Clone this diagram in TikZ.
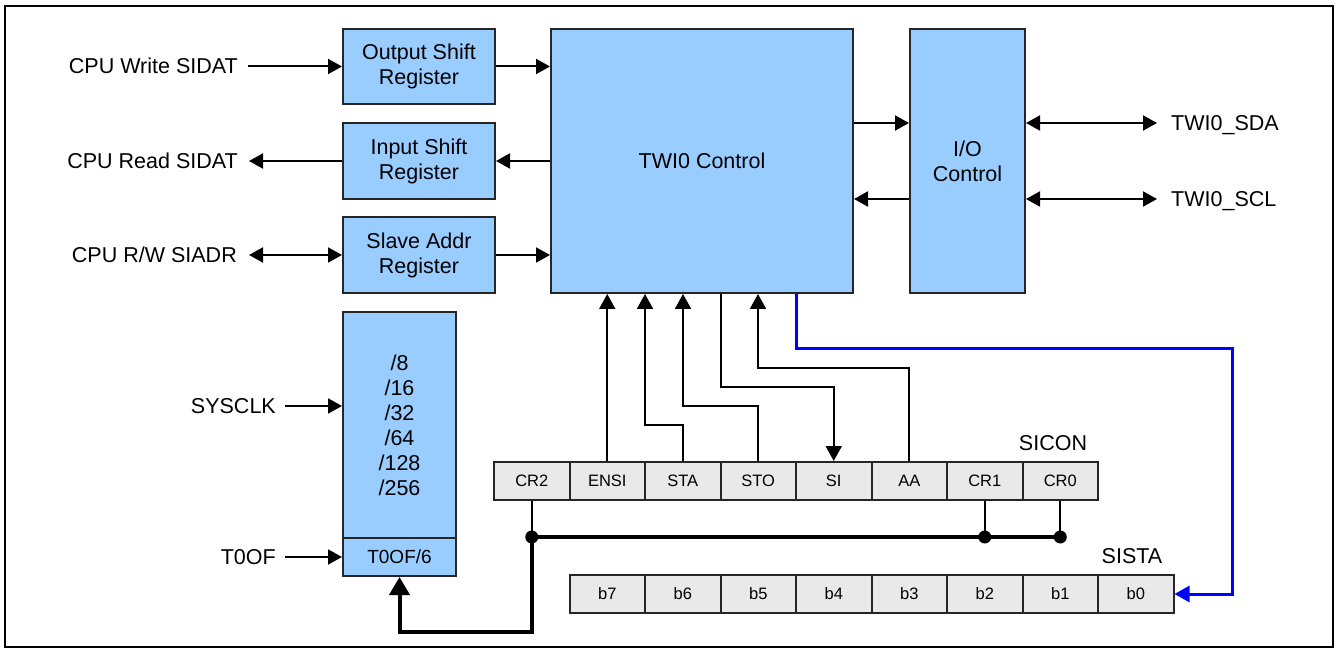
\documentclass[tikz,border=0pt]{standalone}
\usepackage{fontspec}
\setmainfont{Liberation Sans}
\usetikzlibrary{arrows.meta,calc}
\definecolor{boxblue}{RGB}{153,204,255}
\definecolor{cellgray}{RGB}{233,233,233}
\definecolor{lineblue}{RGB}{0,0,255}
\begin{document}
\begin{tikzpicture}[x=1pt,y=-1pt,
  blk/.style={draw=black!85, line width=2pt, fill=boxblue, inner sep=0pt, align=center,
    font=\fontsize{21.5}{25}\selectfont},
  cell/.style={draw=black!85, line width=2pt, fill=cellgray, minimum width=75.5pt,
    minimum height=38pt, inner sep=0pt, font=\fontsize{16.5}{19}\selectfont},
  lbl/.style={inner sep=0pt, text height=15pt, text depth=0pt, font=\fontsize{21.5}{25}\selectfont},
  conn/.style={line width=2pt, -{Triangle[length=14pt,width=15pt]}},
  dconn/.style={line width=2pt, {Triangle[length=14pt,width=15pt]}-{Triangle[length=14pt,width=15pt]}},
  uarr/.style={line width=2pt, -{Triangle[length=15pt,width=16pt]}},
  wire/.style={line width=2pt},
  bus/.style={line width=4pt},
  busarr/.style={line width=4pt, -{Triangle[length=18pt,width=20pt]}},
  bluearr/.style={line width=3pt, draw=lineblue, -{Triangle[length=15pt,width=16pt]}},
  dot/.style={fill=black}
]
\useasboundingbox (0,0) rectangle (1339,652);
\draw[line width=2pt] (5,6) rectangle (1333,647);

% main blocks
\node[blk, minimum width=152pt, minimum height=75pt] (osr) at (419,66.5) {Output Shift\\Register};
\node[blk, minimum width=152pt, minimum height=76pt] (isr) at (419,161) {Input Shift\\Register};
\node[blk, minimum width=152pt, minimum height=76pt] (sar) at (419,255) {Slave Addr\\Register};
\node[blk, minimum width=302pt, minimum height=264pt] (twi) at (702,161) {TWI0 Control};
\node[blk, minimum width=115pt, minimum height=264pt] (ioc) at (967.5,161) {I/O\\Control};
\node[blk, minimum width=113pt, minimum height=226pt] (div) at (399.5,425) {/8\\/16\\/32\\/64\\/128\\/256};
\node[blk, minimum width=113pt, minimum height=38pt, font=\fontsize{19}{22}\selectfont] (toof) at (399.5,557) {T0OF/6};

% left labels
\node[lbl, anchor=east] (wr) at (238,66.5) {CPU Write SIDAT};
\node[lbl, anchor=east] (rd) at (238,161) {CPU Read SIDAT};
\node[lbl, anchor=east] (rw) at (237,255) {CPU R/W SIADR};
\node[lbl, anchor=east] (sys) at (276,406) {SYSCLK};
\node[lbl, anchor=east] (tof) at (276,557) {T0OF};
% right labels
\node[lbl, anchor=west] (sda) at (1171,123) {TWI0\_SDA};
\node[lbl, anchor=west] (scl) at (1171,199) {TWI0\_SCL};
\node[lbl] (sicon) at (1053,443) {SICON};
\node[lbl] (sista) at (1132,556) {SISTA};

% register cells
\foreach \n/\t [count=\i from 0] in {cr2/CR2,ensi/ENSI,sta/STA,sto/STO,si/SI,aa/AA,cr1/CR1,cr0/CR0}
  \node[cell] (\n) at (531.75+75.5*\i,481) {\t};
\foreach \t [count=\i from 0] in {7,6,5,4,3,2,1,0}
  \node[cell] (b\t) at (607.25+75.5*\i,594) {b\t};

% left connectors
\draw[conn] ([xshift=10pt]wr.east) -- (wr.east -| osr.west);
\draw[conn] (rd.east -| isr.west) -- ([xshift=11pt]rd.east);
\draw[dconn] ([xshift=12pt]rw.east) -- (rw.east -| sar.west);
\draw[conn] ([xshift=9pt]sys.east) -- (sys.east -| div.west);
\draw[conn] ([xshift=9pt]tof.east) -- (tof.east -| toof.west);

% block to block
\draw[conn] (osr.east) -- (osr.east -| twi.west);
\draw[conn] (isr.east -| twi.west) -- (isr.east);
\draw[conn] (sar.east) -- (sar.east -| twi.west);
\draw[conn] (sda.west -| twi.east) -- (sda.west -| ioc.west);
\draw[conn] (scl.west -| ioc.west) -- (scl.west -| twi.east);
\draw[dconn] (sda.west -| ioc.east) -- ([xshift=-14pt]sda.west);
\draw[dconn] (scl.west -| ioc.east) -- ([xshift=-14pt]scl.west);

% control bits
\coordinate (kSTA) at (645,425);
\coordinate (kSTO) at (683,406);
\coordinate (kSI) at (721,387);
\coordinate (kAA) at (758,368);
\coordinate (kB1) at (796,349);
\coordinate (kB2) at (1232,349);
\draw[uarr] (ensi.north) -- (ensi.north |- twi.south);
\draw[uarr] (sta.north) |- (kSTA) -- (kSTA |- twi.south);
\draw[uarr] (sto.north) |- (kSTO) -- (kSTO |- twi.south);
\draw[uarr] (kSI |- twi.south) -- (kSI) -| (si.north);
\draw[uarr] (aa.north) |- (kAA) -- (kAA |- twi.south);
\draw[bluearr] (kB1 |- twi.south) -- (kB1) -- (kB2) |- (b0.east);

% clock select bus
\coordinate (busy) at (0,537);
\coordinate (kbot) at (0,632);
\draw[wire] (cr2.south) -- (cr2.south |- busy);
\draw[wire] (cr1.south) -- (cr1.south |- busy);
\draw[wire] (cr0.south) -- (cr0.south |- busy);
\draw[bus] (cr2.south |- busy) -- (cr0.south |- busy);
\draw[busarr] (cr2.south |- busy) -- (cr2.south |- kbot) -| (toof.south);
\fill[dot] (cr2.south |- busy) circle (6.5pt);
\fill[dot] (cr1.south |- busy) circle (6.5pt);
\fill[dot] (cr0.south |- busy) circle (6.5pt);
\end{tikzpicture}
\end{document}
